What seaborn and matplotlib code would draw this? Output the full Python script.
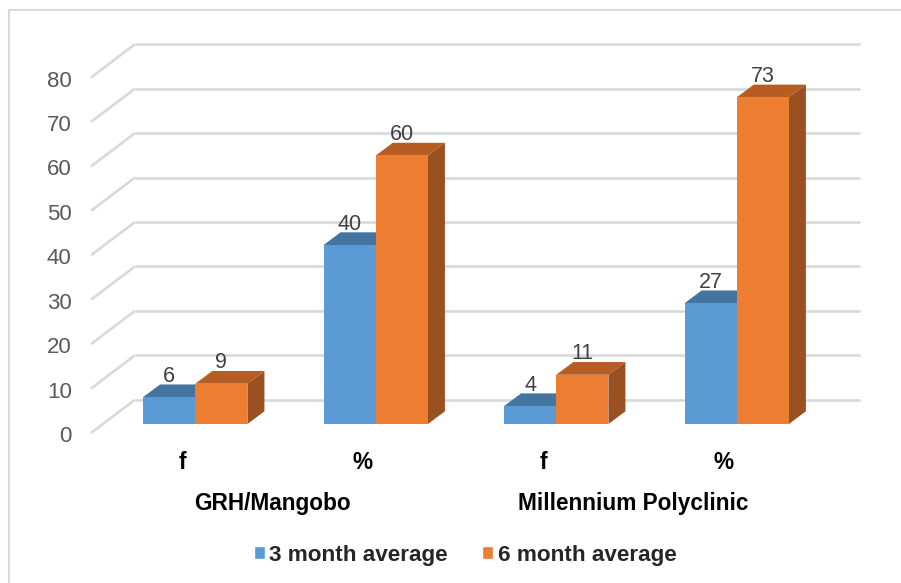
import matplotlib
matplotlib.use("Agg")
import matplotlib.pyplot as plt
import matplotlib.transforms as mtrans
from matplotlib.lines import Line2D
from matplotlib.patches import Polygon
import pandas as pd
import seaborn as sns

# DATA
categories = ["GRH f", "GRH %", "Mill f", "Mill %"]
cat_labels = ["f", "%", "f", "%"]
groups = ["GRH/Mangobo", "Millennium Polyclinic"]
series_names = ["3 month average", "6 month average"]
values_3m = [6, 40, 4, 27]
values_6m = [9, 60, 11, 73]
y_ticks = [0, 10, 20, 30, 40, 50, 60, 70, 80]

colors = ["#5B9BD5", "#ED7D31"]
top_colors = ["#4475A0", "#B55D22"]
side_colors = ["#41719C", "#9A5020"]
grid_color = "#D9D9D9"

W, H = 901, 583
# axes box in pixels, the front plane of the bars
left, right, base, top = 105, 827, 424, 66

sns.set_style("white")
plt.rcParams["font.family"] = ["Liberation Sans", "DejaVu Sans"]

fig = plt.figure(figsize=(W / 100, H / 100), dpi=100)
ax = fig.add_axes([left / W, 1 - base / H, (right - left) / W, (base - top) / H])

df = pd.DataFrame({
    "cat": categories * 2,
    "value": values_3m + values_6m,
    "series": [series_names[0]] * 4 + [series_names[1]] * 4,
})
sns.barplot(data=df, x="cat", y="value", hue="series", hue_order=series_names,
            palette=colors, width=0.578, gap=0, saturation=1, ax=ax)
ax.set_xlim(-0.5, 3.5)
ax.set_ylim(0, 80)
ax.set_xlabel("")
ax.set_ylabel("")
sns.despine(ax=ax, left=True, bottom=True, top=True, right=True)

# pixel sizes in data units
px_x = 4 / (right - left)
px_y = 80 / (base - top)
depth_x = 17 * px_x
depth_y = 12.7 * px_y
back_y = 24.3 * px_y
# the wall is a little shorter than the bars' front plane
wall_scale = 0.993


def x_data(px):
    return (px - left) * px_x - 0.5


# back wall grid and the slanted left wall
for v in y_ticks:
    yb = v * wall_scale + back_y
    ax.plot([x_data(135), x_data(860)], [yb, yb], color=grid_color, lw=1.9,
            zorder=1, clip_on=False, solid_capstyle="butt")
    ax.plot([x_data(91), x_data(135)], [v * wall_scale - 9 * px_y, yb], color=grid_color, lw=1.9,
            zorder=1, clip_on=False, solid_capstyle="butt")

# depth faces of the bars
for n, cont in enumerate(ax.containers):
    for bar in cont:
        bar.set_zorder(3 + n * 2)
        bar.set_edgecolor("none")
        x0 = bar.get_x()
        x1 = x0 + bar.get_width()
        h = bar.get_height()
        z = 2 + n * 2
        ax.add_patch(Polygon([(x0, h), (x0 + depth_x, h + depth_y),
                              (x1 + depth_x, h + depth_y), (x1, h)],
                             facecolor=top_colors[n], edgecolor="none", zorder=z, clip_on=False))
        ax.add_patch(Polygon([(x1, 0), (x1 + depth_x, depth_y),
                              (x1 + depth_x, h + depth_y), (x1, h)],
                             facecolor=side_colors[n], edgecolor="none", zorder=z, clip_on=False))
    labels = ax.bar_label(cont, padding=7.5, fontsize=15.5, color="#404040")
    for t in labels:
        t.set_zorder(8)

# ticks, shifted to sit on the front edge of the slanted wall
ax.set_yticks([v * wall_scale for v in y_ticks])
ax.set_yticklabels(y_ticks)
ax.tick_params(axis="y", length=0, pad=24, labelsize=16, labelcolor="#595959")
ax.tick_params(axis="x", length=0, pad=19.5)
ax.set_xticks(range(4))
ax.set_xticklabels(cat_labels, fontsize=16.3, fontweight="bold", color="#000000")
shift_y = mtrans.ScaledTranslation(0, -10 / 100, fig.dpi_scale_trans)
for lab in ax.get_yticklabels():
    lab.set_transform(lab.get_transform() + shift_y)
shift_x = mtrans.ScaledTranslation(-13 / 100, 0, fig.dpi_scale_trans)
for lab in ax.get_xticklabels():
    lab.set_transform(lab.get_transform() + shift_x)

# hospital names under the pairs
for i, name in enumerate(groups):
    xc = (i * 2 + i * 2 + 1) / 2
    ax.text(xc - 13 * px_x, (base - 503.5) * px_y, name, ha="center", va="center",
            fontsize=16.3, fontweight="bold", color="#000000", clip_on=False)

# legend
handles, names = ax.get_legend_handles_labels()
ax.legend_.remove()
fig.legend(handles, names, loc="center", bbox_to_anchor=(465 / W, 1 - 555 / H), ncols=2,
           frameon=False, prop={"weight": "bold", "size": 16.2}, handlelength=0.5,
           handleheight=0.5, handletextpad=0.2, columnspacing=1.5)

# outer chart frame, only top and left fall inside the picture
fig.add_artist(Line2D([8.5 / W, 8.5 / W], [0, 1 - 10 / H], color=grid_color, lw=1.5))
fig.add_artist(Line2D([8.5 / W, 1], [1 - 10 / H, 1 - 10 / H], color=grid_color, lw=1.5))

fig.savefig("out.png", dpi=100)
